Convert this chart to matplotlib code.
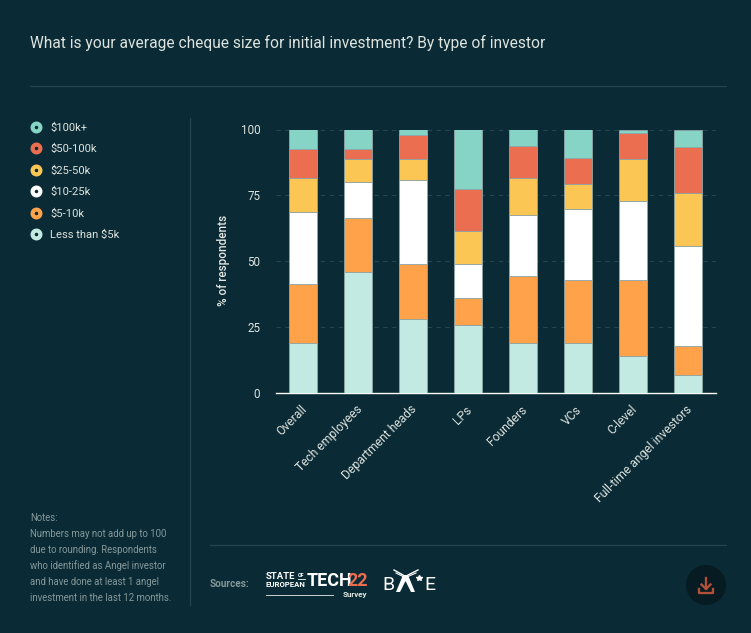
import matplotlib
matplotlib.use("Agg")
import matplotlib.pyplot as plt
from matplotlib.lines import Line2D
from matplotlib.patches import Circle, Polygon
from matplotlib.transforms import ScaledTranslation

categories = ["Overall", "Tech employees", "Department heads", "LPs", "Founders", "VCs", "C-level", "Full-time angel investors"]
less_5k = [19, 46, 28, 26, 19, 19, 14, 7]
k5_10 = [22.4, 20.5, 21, 10, 25.5, 24, 29, 11]
k10_25 = [27.3, 13.5, 32, 13, 23, 27, 30, 38]
k25_50 = [12.8, 8.7, 7.7, 12.5, 14, 9.3, 15.7, 20]
k50_100 = [11.2, 4, 9.3, 16, 12.3, 10, 10, 17.2]
k100_plus = [7.3, 7.3, 2, 23, 6.2, 10.7, 1.3, 6.8]
series_names = ["Less than $5k", "$5-10k", "$10-25k", "$25-50k", "$50-100k", "$100k+"]
series_values = [less_5k, k5_10, k10_25, k25_50, k50_100, k100_plus]
colors = ["#C2EAE2", "#FFA24A", "#FFFFFF", "#FCC655", "#EA6E4F", "#85D4C6"]
y_ticks = [0, 25, 50, 75, 100]

BG = "#0A2A35"
W, H = 751, 633
plt.rcParams["font.family"] = ["Roboto", "DejaVu Sans"]
fig = plt.figure(figsize=(W / 100, H / 100), dpi=100, facecolor=BG)

# page overlay in pixel coordinates
ov = fig.add_axes([0, 0, 1, 1], zorder=0)
ov.set_xlim(0, W); ov.set_ylim(H, 0); ov.axis("off")
ov.text(30, 42.5, "What is your average cheque size for initial investment? By type of investor",
        color="#DDE3DE", fontsize=11.2, va="center", ha="left")
RULE = "#24474F"
ov.plot([30, 726], [85.5, 85.5], color=RULE, lw=0.9)
ov.plot([210, 726], [544.5, 544.5], color=RULE, lw=0.9)
ov.plot([189.5, 189.5], [118, 605], color=RULE, lw=0.9)

notes = ["Notes:", "Numbers may not add up to 100", "due to rounding. Respondents",
         "who identified as Angel investor", "and have done at least 1 angel",
         "investment in the last 12 months."]
for i, line in enumerate(notes):
    ov.text(30, 518 + i * 16, line, color="#84989A", fontsize=6.9, va="center", ha="left")

ov.text(210, 584, "Sources:", color="#84989A", fontsize=7.2, va="center", ha="left", fontweight="bold")
ov.text(266, 576.7, "STATE", color="white", fontsize=6.8, fontweight="bold", va="center", ha="left")
ov.text(298, 575.5, "OF", color="white", fontsize=3.8, fontweight="bold", va="center", ha="left")
ov.plot([298, 305], [578.8, 578.8], color="white", lw=0.6)
ov.text(266, 584.5, "EUROPEAN", color="white", fontsize=5.6, fontweight="bold", va="center", ha="left")
ov.text(307, 580.5, "TECH", color="white", fontsize=13, fontweight="bold", va="center", ha="left")
ov.text(347, 580.5, "22", color="#EA6E4F", fontsize=13, fontweight="bold", va="center", ha="left")
ov.plot([266, 333], [594.5, 594.5], color="#C8D2D0", lw=0.7)
ov.text(367, 594.5, "Survey", color="#E4E8E2", fontsize=5.8, fontweight="bold", va="center", ha="right")
ov.text(382, 585, "B", color="white", fontsize=14, va="center", ha="left")
ov.text(424, 585, "E", color="white", fontsize=14, va="center", ha="left")
ov.add_patch(Polygon([[396, 592], [403, 575], [408, 575], [415, 592], [411, 592], [405.5, 581], [400, 592]],
                     closed=True, fc="white", ec="none"))
ov.plot([394, 403], [570, 575], color="white", lw=1.0)
ov.plot([396, 403], [573, 576.5], color="white", lw=0.8)
ov.plot([418, 408], [570, 575], color="white", lw=1.0)
ov.plot([416, 408], [573, 576.5], color="white", lw=0.8)
ov.plot([418.5], [578], marker="*", color="white", markersize=4, ls="none")

ov.add_patch(Circle((706, 585), 20, fc="#061B22", ec="none"))
ICON = "#B24F38"
ov.plot([706, 706], [577.5, 588.5], color=ICON, lw=1.7)
ov.plot([701.5, 706, 710.5], [584.5, 589, 584.5], color=ICON, lw=1.7)
ov.plot([699, 699, 713, 713], [588.5, 592.5, 592.5, 588.5], color=ICON, lw=1.7)

# chart
x0, x1, ytop, ybot = 276, 716, 129.5, 393.3
ax = fig.add_axes([x0 / W, 1 - ybot / H, (x1 - x0) / W, (ybot - ytop) / H], zorder=1)
ax.set_facecolor("none")
ax.set_xlim(-0.49, 7.51)
ax.set_ylim(0, 100)
xs = list(range(len(categories)))
bottom = [0] * len(categories)
handles = []
for name, vals, c in zip(series_names, series_values, colors):
    ax.bar(xs, vals, width=0.5, bottom=bottom, color=c, edgecolor="#8FA6A6", linewidth=0.6, zorder=3)
    bottom = [b + v for b, v in zip(bottom, vals)]
    handles.append(Line2D([], [], ls="none", marker="o", markersize=5.6, markerfacecolor=BG,
                          markeredgecolor=c, markeredgewidth=3.0, label=name))
for s in ["top", "right", "left"]:
    ax.spines[s].set_visible(False)
ax.spines["bottom"].set_color("white")
ax.spines["bottom"].set_linewidth(1.0)
ax.set_yticks(y_ticks)
ax.grid(axis="y", color="#24474F", linestyle=(0, (4, 4)), linewidth=0.8, zorder=0)
ax.set_axisbelow(True)
ax.tick_params(axis="y", length=0, pad=11.4, labelcolor="#DDE3DE", labelsize=8.4)
ax.tick_params(axis="x", length=0, pad=7, labelcolor="#DDE3DE", labelsize=8.7)
ax.set_xticks(xs)
ax.set_xticklabels(categories, rotation=45, ha="right", rotation_mode="anchor")
shift = ScaledTranslation(-2.5 / 100, 0, fig.dpi_scale_trans)
for lab in ax.get_xticklabels():
    lab.set_transform(lab.get_transform() + shift)
ax.set_ylabel("% of respondents", color="#E4E8E2", fontsize=8.4, fontweight="medium", labelpad=0)
ax.yaxis.set_label_coords((230 - x0) / (x1 - x0), 0.505)

leg = fig.legend(handles=handles[::-1], loc="upper left", bbox_to_anchor=(30.4 / W, 1 - 122.3 / H),
                 frameon=False, fontsize=8.1, labelcolor="#DDE3DE", handlelength=1.0,
                 handletextpad=0.74, labelspacing=1.01, borderpad=0, borderaxespad=0)

fig.savefig("out.png", dpi=100, facecolor=BG)
